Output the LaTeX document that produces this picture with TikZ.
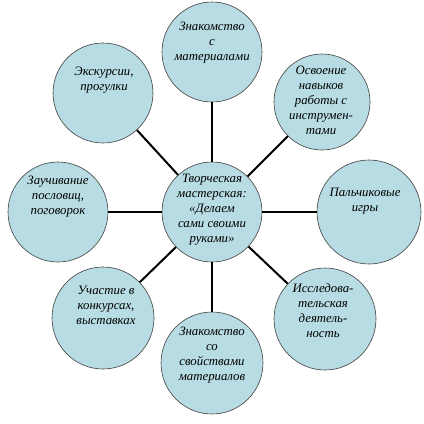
\documentclass[tikz,border=0pt]{standalone}
\usepackage{fontspec}
\setmainfont{Liberation Serif}
\usepackage{tikz}

\definecolor{bulle}{HTML}{B8DCE3}

\tikzset{
  bulle/.style={circle, draw=black!75, line width=0.6pt, fill=bulle, inner sep=0pt},
  texte/.style={align=center, font=\fontsize{12.8}{15}\selectfont\itshape},
  lien/.style={line width=2pt}
}

\begin{document}
\begin{tikzpicture}[x=1pt, y=-1pt]

% Cadre de l'image
\useasboundingbox (0,0) rectangle (424,424);

% Cercle central
\node[bulle, minimum size=100pt] (centre) at (212,212) {};
\node[texte] at (212,210) {Творческая\\мастерская:\\«Делаем\\сами своими\\руками»};

% Cercle du haut
\node[bulle, minimum size=100pt] (haut) at (212,52) {};
\node[texte] at (212,43) {Знакомство\\с\\материалами};

% Cercle en haut a droite
\node[bulle, minimum size=96pt] (hautdroite) at (322,102) {};
\node[texte] at (321,100) {Освоение\\навыков\\работы с\\инструмен-\\тами};

% Cercle de droite
\node[bulle, minimum size=104pt] (droite) at (369,212) {};
\node[texte] at (365,201) {Пальчиковые\\игры};

% Cercle en bas a droite
\node[bulle, minimum size=102pt] (basdroite) at (325,319) {};
\node[texte] at (323,311) {Исследова-\\тельская\\деятель-\\ность};

% Cercle du bas
\node[bulle, minimum size=102pt] (bas) at (212,363) {};
\node[texte] at (212,355) {Знакомство\\со\\свойствами\\материалов};

% Cercle en bas a gauche
\node[bulle, minimum size=102pt] (basgauche) at (103,318) {};
\node[texte] at (106,305) {Участие в\\конкурсах,\\выставках};

% Cercle de gauche
\node[bulle, minimum size=100pt] (gauche) at (58,212) {};
\node[texte] at (58,197) {Заучивание\\пословиц,\\поговорок};

% Cercle en haut a gauche
\node[bulle, minimum size=100pt] (hautgauche) at (103,93) {};
\node[texte] at (104,80) {Экскурсии,\\прогулки};

% Liens vers le centre
\draw[lien] (centre) -- (haut);
\draw[lien] (centre) -- (hautdroite);
\draw[lien] (centre) -- (droite);
\draw[lien] (centre) -- (basdroite);
\draw[lien] (centre) -- (bas);
\draw[lien] (centre) -- (basgauche);
\draw[lien] (centre) -- (gauche);
\draw[lien] (centre) -- (hautgauche);

\end{tikzpicture}
\end{document}
